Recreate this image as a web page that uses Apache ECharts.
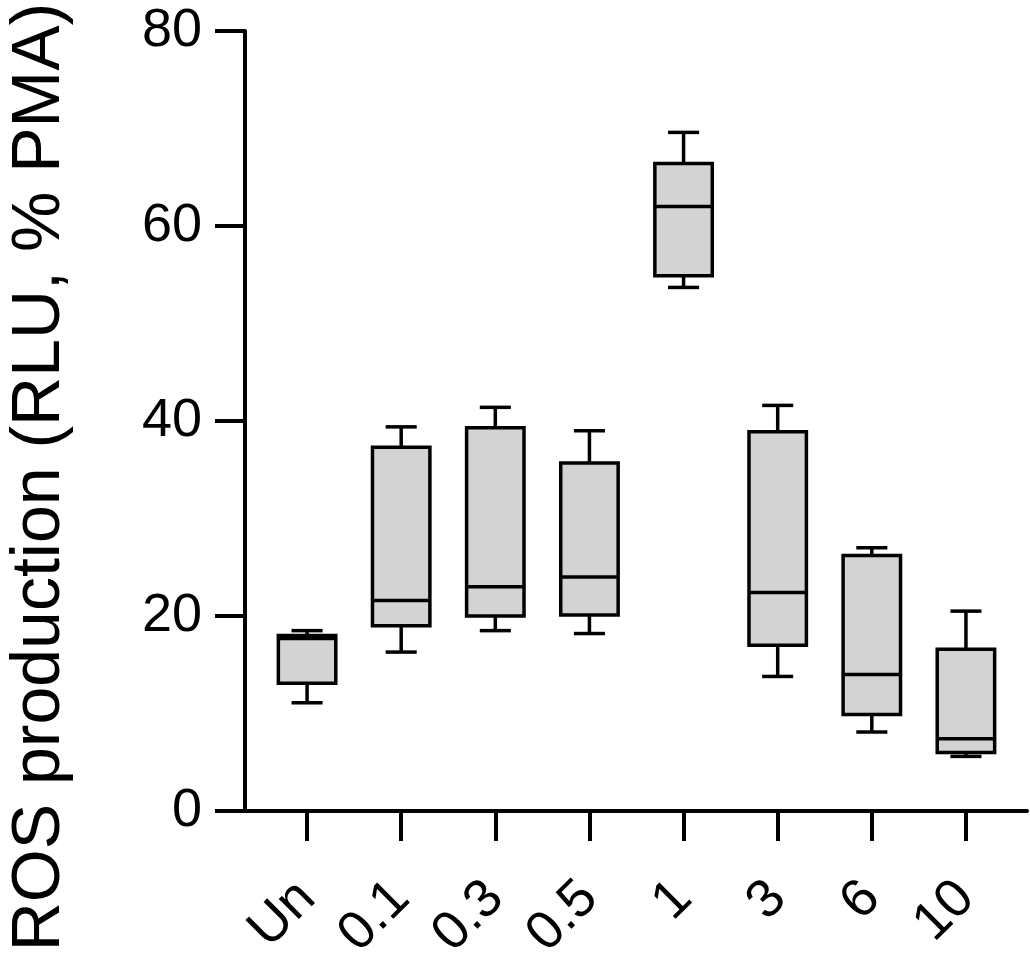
<!DOCTYPE html>
<html>
<head>
<meta charset="utf-8">
<title>ROS production</title>
<script src="https://cdn.jsdelivr.net/npm/echarts@6/dist/echarts.min.js"></script>
<style>
    html, body { margin: 0; padding: 0; background: #fff; }
    #chart { width: 1030px; height: 958px; }
</style>
</head>
<body>
<div id="chart"></div>
<script>
const categories = ['Un', '0.1', '0.3', '0.5', '1', '3', '6', '10']
const mins    = [11.1, 16.3, 18.5, 18.2, 53.7, 13.8,  8.1,  5.6]
const q1s     = [13.1, 19.0, 20.0, 20.1, 54.9, 17.0,  9.9,  6.0]
const medians = [17.7, 21.6, 23.0, 24.0, 62.0, 22.4, 14.0,  7.4]
const q3s     = [18.0, 37.3, 39.3, 35.7, 66.4, 38.9, 26.2, 16.6]
const maxs    = [18.5, 39.4, 41.4, 39.0, 69.6, 41.6, 27.0, 20.5]
const yTicks  = [0, 20, 40, 60, 80]

const FONT = '"Liberation Sans", Arial, Helvetica, sans-serif'
const LINE = '#000'

const boxData = categories.map((c, i) => [i, mins[i], q1s[i], medians[i], q3s[i], maxs[i]])

// box + whiskers drawn through the axis scales
function renderBox(params, api) {
    const i = api.value(0)
    const band = api.size([1, 0])[0]
    const bw = band * 0.61
    const cw = band * 0.33
    const pMin = api.coord([i, api.value(1)])
    const pQ1 = api.coord([i, api.value(2)])
    const pMed = api.coord([i, api.value(3)])
    const pQ3 = api.coord([i, api.value(4)])
    const pMax = api.coord([i, api.value(5)])
    const cx = pMed[0]
    const style = { stroke: LINE, lineWidth: 3.5, fill: null }
    const seg = (x1, y1, x2, y2) => ({
        type: 'line',
        shape: { x1, y1, x2, y2 },
        style
    })
    return {
        type: 'group',
        children: [
            seg(cx, pQ3[1], cx, pMax[1]),
            seg(cx, pQ1[1], cx, pMin[1]),
            {
                type: 'rect',
                shape: { x: cx - bw / 2, y: pQ3[1], width: bw, height: pQ1[1] - pQ3[1] },
                style: { fill: '#d3d3d3', stroke: LINE, lineWidth: 3.5 }
            },
            seg(cx - bw / 2, pMed[1], cx + bw / 2, pMed[1]),
            seg(cx - cw / 2, pMax[1], cx + cw / 2, pMax[1]),
            seg(cx - cw / 2, pMin[1], cx + cw / 2, pMin[1])
        ]
    }
}

const chart = echarts.init(document.getElementById('chart'))
const option = {
    backgroundColor: '#fff',
    animation: false,
    textStyle: { fontFamily: FONT },
    grid: [
        { left: 245, right: 3, top: 31, bottom: 147, outerBoundsMode: 'none' },
        { left: 260, right: 17, top: 31, bottom: 147, outerBoundsMode: 'none' }
    ],
    xAxis: [
        {
            gridIndex: 0,
            type: 'value',
            min: 0,
            max: 1,
            axisLine: { show: true, lineStyle: { color: LINE, width: 4 } },
            axisTick: { show: false },
            axisLabel: { show: false },
            splitLine: { show: false }
        },
        {
            gridIndex: 1,
            type: 'category',
            data: categories,
            axisLine: { show: false },
            axisTick: {
                show: true,
                alignWithLabel: true,
                length: 30,
                lineStyle: { color: LINE, width: 4 }
            },
            axisLabel: {
                rotate: 45,
                margin: 79,
                color: '#000',
                fontSize: 54,
                fontFamily: FONT,
                interval: 0
            },
            splitLine: { show: false }
        }
    ],
    yAxis: [
        {
            gridIndex: 0,
            type: 'value',
            min: yTicks[0],
            max: yTicks[yTicks.length - 1],
            interval: 20,
            name: 'ROS production (RLU, % PMA)',
            nameLocation: 'middle',
            nameGap: 171,
            nameTextStyle: {
                color: '#000',
                fontSize: 68,
                fontFamily: FONT,
                padding: [0, 112, 0, 0]
            },
            axisLine: { show: true, lineStyle: { color: LINE, width: 4 } },
            axisTick: { show: true, length: 30, lineStyle: { color: LINE, width: 4 } },
            axisLabel: { color: '#000', fontSize: 54, fontFamily: FONT, margin: 43 },
            splitLine: { show: false }
        },
        {
            gridIndex: 1,
            type: 'value',
            min: yTicks[0],
            max: yTicks[yTicks.length - 1],
            show: false
        }
    ],
    series: [
        {
            type: 'custom',
            xAxisIndex: 1,
            yAxisIndex: 1,
            renderItem: renderBox,
            encode: { x: 0, y: [1, 2, 3, 4, 5] },
            data: boxData
        }
    ]
}
chart.setOption(option)
</script>
</body>
</html>
